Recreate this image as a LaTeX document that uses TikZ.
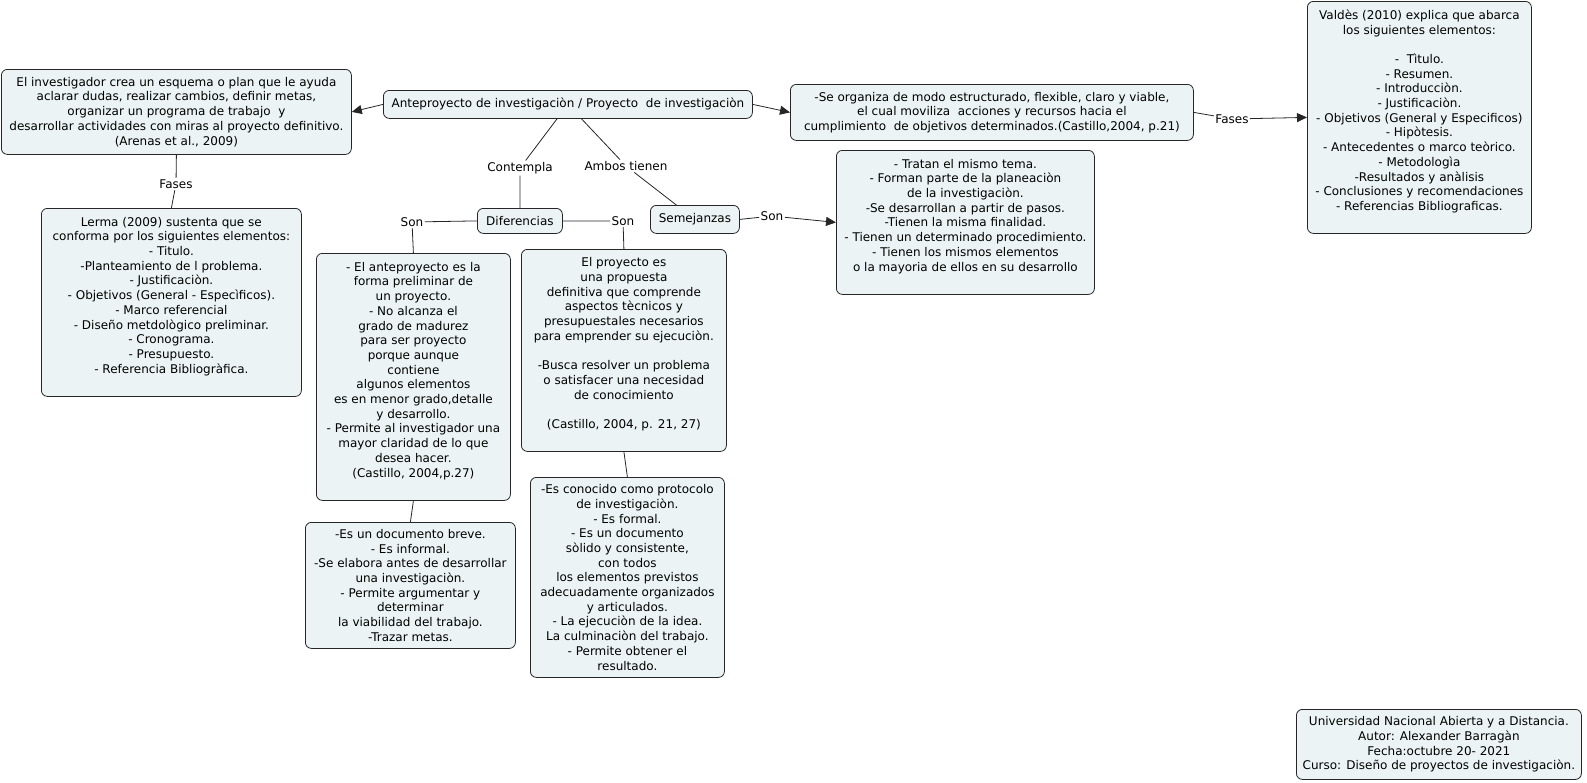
\documentclass[tikz,border=0pt]{standalone}
\usepackage{fontspec}
\setmainfont{DejaVu Sans}
\usetikzlibrary{arrows.meta}
\definecolor{cmapfill}{RGB}{236,243,245}

\begin{document}
\begin{tikzpicture}[x=1pt, y=-1pt, >={Triangle[length=10pt,width=9pt]},
  concept/.style={draw=black!85, fill=cmapfill, rounded corners=6pt, line width=0.8pt,
    align=center, anchor=north west, inner sep=2pt, font=\fontsize{12}{14.7}\selectfont},
  linkword/.style={inner sep=1.5pt, font=\fontsize{12}{13}\selectfont},
  link/.style={line width=0.8pt, draw=black!85}]
  \useasboundingbox (0,0) rectangle (1587,782);
  % central concept
  \node[concept, minimum width=369, minimum height=28] (main) at (383,90)
    {Anteproyecto de investigaciòn / Proyecto\ \ de investigaciòn};
  % left branch
  \node[concept, minimum width=350, minimum height=85] (plan) at (1,69)
    {El investigador crea un esquema o plan que le ayuda\\ aclarar dudas, realizar cambios, definir metas,\\
     organizar un programa de trabajo\ \ y\\ desarrollar actividades con miras al proyecto definitivo.\\ (Arenas et al., 2009)};
  \node[concept, minimum width=260, minimum height=188] (lerma) at (41,208)
    {Lerma (2009) sustenta que se\\ conforma por los siguientes elementos:\\ - Titulo.\\ -Planteamiento de l problema.\\
     - Justificaciòn.\\ - Objetivos (General - Especìficos).\\ - Marco referencial\\ - Diseño metdològico preliminar.\\
     - Cronograma.\\ - Presupuesto.\\ - Referencia Bibliogràfica.\\ ~};
  % right branch
  \node[concept, minimum width=403, minimum height=56] (organiza) at (790,84)
    {-Se organiza de modo estructurado, flexible, claro y viable,\\ el cual moviliza\ \ acciones y recursos hacia el\\
     cumplimiento\ \ de objetivos determinados.(Castillo,2004, p.21)};
  \node[concept, minimum width=224, minimum height=232] (valdes) at (1307,1)
    {Valdès (2010) explica que abarca\\ los siguientes elementos:\\ ~\\ -\ \ Tìtulo.\\ - Resumen.\\ - Introducciòn.\\
     - Justificaciòn.\\ - Objetivos (General y Especificos)\\ - Hipòtesis.\\ - Antecedentes o marco teòrico.\\
     - Metodologìa\\ -Resultados y anàlisis\\ - Conclusiones y recomendaciones\\ - Referencias Bibliograficas.\\ ~};
  % differences and similarities
  \node[concept, minimum width=85, minimum height=25] (difer) at (477,208) {Diferencias};
  \node[concept, minimum width=89, minimum height=28] (semej) at (650,205) {Semejanzas};
  \node[concept, minimum width=258, minimum height=144] (tratan) at (836,150)
    {- Tratan el mismo tema.\\ - Forman parte de la planeaciòn\\ de la investigaciòn.\\ -Se desarrollan a partir de pasos.\\
     -Tienen la misma finalidad.\\ - Tienen un determinado procedimiento.\\ - Tienen los mismos elementos\\
     o la mayoria de ellos en su desarrollo\\ ~};
  \node[concept, minimum width=194, minimum height=247] (antep) at (316,253)
    {- El anteproyecto es la\\ forma preliminar de\\ un proyecto.\\ - No alcanza el\\ grado de madurez\\ para ser proyecto\\
     porque aunque\\ contiene\\ algunos elementos\\ es en menor grado,detalle\\ y desarrollo.\\
     - Permite al investigador una\\ mayor claridad de lo que\\ desea hacer.\\ (Castillo, 2004,p.27)\\ ~};
  \node[concept, minimum width=205, minimum height=202] (proyec) at (521,249)
    {El proyecto es\\ una propuesta\\ definitiva que comprende\\ aspectos tècnicos y\\ presupuestales necesarios\\
     para emprender su ejecuciòn.\\ ~\\ -Busca resolver un problema\\ o satisfacer una necesidad\\ de conocimiento\\ ~\\
     (Castillo, 2004, p. 21, 27)\\ ~};
  \node[concept, minimum width=210, minimum height=126] (breve) at (305,522)
    {-Es un documento breve.\\ - Es informal.\\ -Se elabora antes de desarrollar\\ una investigaciòn.\\
     - Permite argumentar y\\ determinar\\ la viabilidad del trabajo.\\ -Trazar metas.};
  \node[concept, minimum width=194, minimum height=200] (protoc) at (530,477)
    {-Es conocido como protocolo\\ de investigaciòn.\\ - Es formal.\\ - Es un documento\\ sòlido y consistente,\\
     con todos\\ los elementos previstos\\ adecuadamente organizados\\ y articulados.\\ - La ejecuciòn de la idea.\\
     La culminaciòn del trabajo.\\ - Permite obtener el\\ resultado.};
  % credits
  \node[concept, minimum width=285, minimum height=70] (credits) at (1296,709)
    {Universidad Nacional Abierta y a Distancia.\\ Autor: Alexander Barragàn\\ Fecha:octubre 20- 2021\\
     Curso: Diseño de proyectos de investigaciòn.};
  % linking words
  \node[linkword] (fasesL) at (176,184) {Fases};
  \node[linkword] (fasesR) at (1232,119) {Fases};
  \node[linkword] (contempla) at (520,168) {Contempla};
  \node[linkword] (ambos) at (626,166) {Ambos tienen};
  \node[linkword] (sonL) at (412,222) {Son};
  \node[linkword] (sonM) at (623,221) {Son};
  \node[linkword] (sonR) at (772,216) {Son};
  % connectors
  \draw[link,->] (main.west) -- (plan.east);
  \draw[link,->] (main.east) -- (organiza.west);
  \draw[link] (organiza.east) -- (fasesR);
  \draw[link,->] (fasesR) -- (valdes.west);
  \draw[link] (plan.south) -- (fasesL);
  \draw[link] (fasesL) -- (lerma.north);
  \draw[link] (main) -- (contempla);
  \draw[link] (contempla) -- (difer.north);
  \draw[link] (main) -- (ambos);
  \draw[link] (ambos) -- (semej);
  \draw[link] (difer.west) -- (sonL);
  \draw[link] (sonL) -- (antep.north);
  \draw[link] (difer.east) -- (sonM);
  \draw[link] (sonM) -- (proyec.north);
  \draw[link] (semej.east) -- (sonR);
  \draw[link,->] (sonR) -- (tratan.west);
  \draw[link] (antep.south) -- (breve.north);
  \draw[link] (proyec.south) -- (protoc.north);
\end{tikzpicture}
\end{document}
